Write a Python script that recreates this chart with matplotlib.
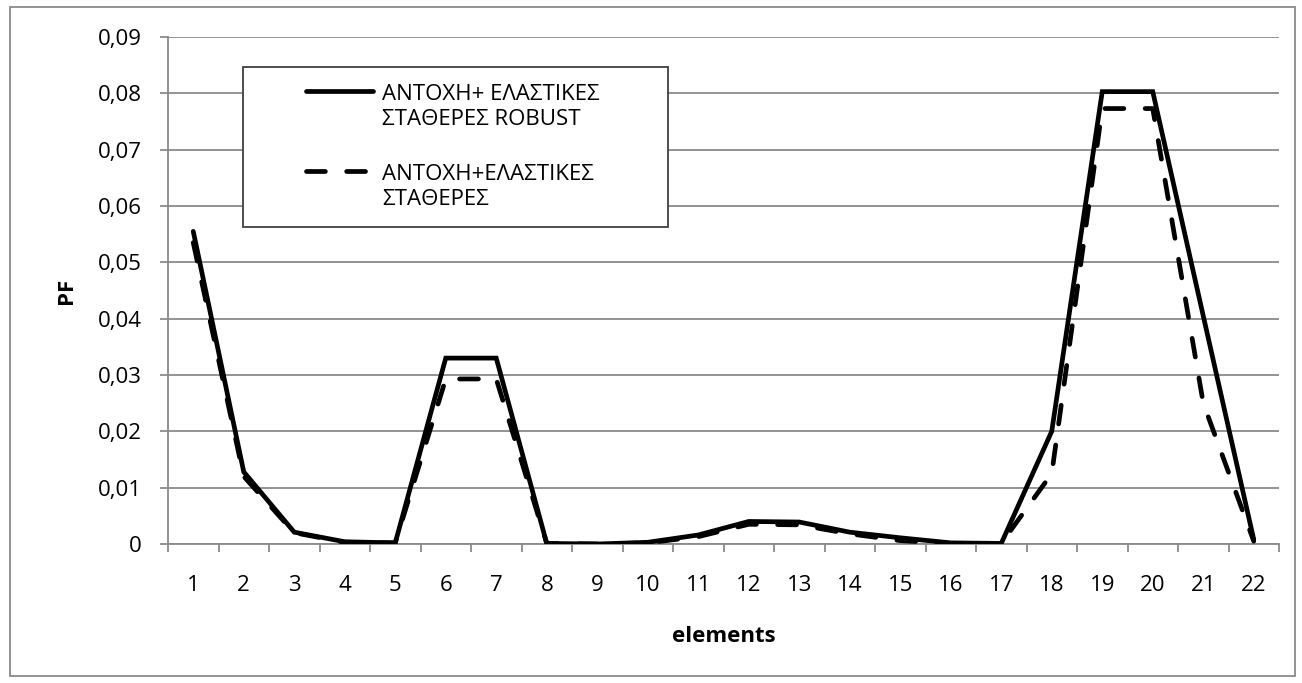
import matplotlib
matplotlib.use("Agg")
import matplotlib.pyplot as plt
from matplotlib.lines import Line2D
from matplotlib.patches import Rectangle
from matplotlib.ticker import FuncFormatter, FixedLocator

plt.rcParams['font.family'] = ['Open Sans', 'DejaVu Sans']

elements = list(range(1, 23))
pf_robust = [0.0555, 0.0128, 0.0021, 0.0004, 0.0002, 0.0330, 0.0330, 0.0001,
             0.0000, 0.0003, 0.0016, 0.0040, 0.0039, 0.0021, 0.0011, 0.0002,
             0.0001, 0.0200, 0.0803, 0.0803, 0.0405, 0.0008]
pf_plain = [0.0535, 0.0120, 0.0020, 0.0003, 0.0002, 0.0293, 0.0293, 0.0001,
            0.0000, 0.0002, 0.0013, 0.0035, 0.0034, 0.0018, 0.0006, 0.0001,
            0.0001, 0.0125, 0.0773, 0.0773, 0.0250, 0.0005]
label_robust = "ΑΝΤΟΧΗ+ ΕΛΑΣΤΙΚΕΣ\nΣΤΑΘΕΡΕΣ ROBUST"
label_plain = "ΑΝΤΟΧΗ+ΕΛΑΣΤΙΚΕΣ\nΣΤΑΘΕΡΕΣ"
y_ticks = [0.00, 0.01, 0.02, 0.03, 0.04, 0.05, 0.06, 0.07, 0.08, 0.09]

W, H = 1302, 683
FS = 16
fig = plt.figure(figsize=(W / 100, H / 100), dpi=100)
ax = fig.add_axes([168 / W, 1 - 544 / H, (1279 - 168) / W, (544 - 37) / H])

grey = '#8a8a8a'
lw = 3.4
dash = (4, 4.5)
ax.plot(elements, pf_plain, color='black', lw=lw, dashes=dash,
        dash_capstyle='round', solid_joinstyle='miter', zorder=3)
ax.plot(elements, pf_robust, color='black', lw=lw, solid_joinstyle='miter',
        solid_capstyle='round', zorder=4)

ax.set_xlim(0.5, 22.5)
ax.set_ylim(0, 0.09)
ax.set_yticks(y_ticks)
ax.yaxis.set_major_formatter(FuncFormatter(
    lambda v, p: '0' if abs(v) < 1e-12 else f'{v:.2f}'.replace('.', ',')))
ax.set_xticks(elements)
ax.set_xticklabels([str(e) for e in elements])
ax.xaxis.set_minor_locator(FixedLocator([e + 0.5 for e in range(0, 23)]))
ax.tick_params(axis='x', which='major', length=0, pad=22, labelsize=FS)
ax.tick_params(axis='x', which='minor', length=6, width=1.3, color=grey,
               direction='out')
ax.tick_params(axis='y', which='major', length=6, width=1.3, color=grey,
               direction='out', pad=13, labelsize=FS)

ax.grid(axis='y', color=grey, lw=1.3)
ax.set_axisbelow(True)
for side in ('top', 'right'):
    ax.spines[side].set_visible(False)
for side in ('left', 'bottom'):
    ax.spines[side].set_color(grey)
    ax.spines[side].set_linewidth(1.3)

ax.set_xlabel('elements', fontsize=FS, fontweight='bold', labelpad=22)
ax.set_ylabel('PF', fontsize=FS, fontweight='bold', labelpad=15)


def fx(px):
    return px / W


def fy(py):
    return 1 - py / H


# legend: framed box, line samples and two-line labels
fig.patches.append(Rectangle((fx(243), fy(227)), (668 - 243) / W,
                             (227 - 67) / H, transform=fig.transFigure,
                             facecolor='white', edgecolor='#404040', lw=1.3,
                             zorder=5))
fig.add_artist(Line2D([fx(306), fx(373)], [fy(91), fy(91)],
                      transform=fig.transFigure, color='black', lw=lw,
                      solid_capstyle='round', zorder=6))
fig.add_artist(Line2D([fx(306), fx(373)], [fy(171), fy(171)],
                      transform=fig.transFigure, color='black', lw=lw,
                      dashes=dash, dash_capstyle='round', zorder=6))
for label, yc in ((label_robust, 107), (label_plain, 187)):
    fig.text(fx(382), fy(yc), label, fontsize=FS, va='center', ha='left',
             linespacing=1.3, zorder=6)

# outer chart border
fig.patches.append(Rectangle((fx(10), fy(676)), (1295 - 10) / W,
                             (676 - 7) / H, transform=fig.transFigure,
                             facecolor='none', edgecolor=grey, lw=1.3))

fig.savefig('out.png', dpi=100)
